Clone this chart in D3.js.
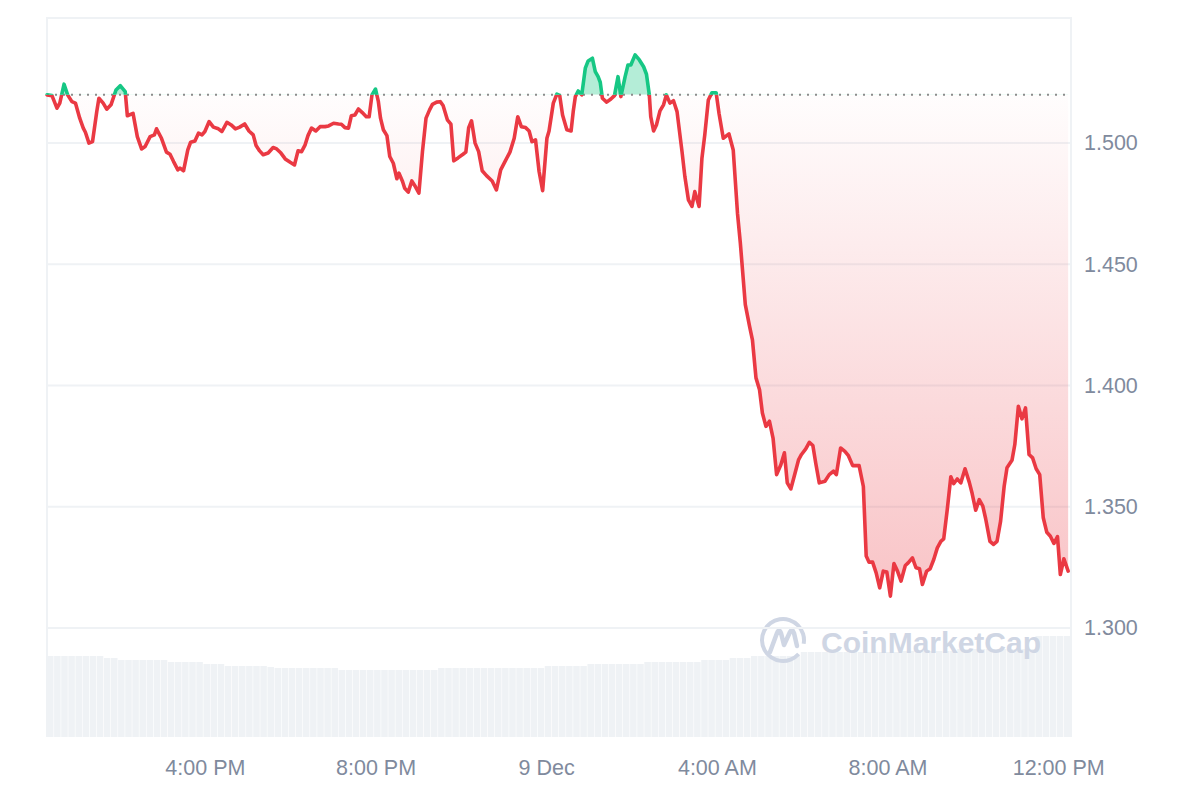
<!DOCTYPE html>
<html>
<head>
<meta charset="utf-8">
<script src="https://cdn.jsdelivr.net/npm/d3@7"></script>
<style>
  html, body { margin: 0; padding: 0; background: #fff; }
  svg { display: block; font-family: "Liberation Sans", Arial, sans-serif; }
</style>
</head>
<body>
<div id="chart"></div>
<script>
// minutes after 12:18 PM, 8 Dec, and the price read at that moment
var minutes = [
  0, 7, 14, 18, 24, 29, 35, 40, 46, 51,
  54, 59, 64, 70, 73, 79, 84, 90, 97, 103,
  110, 113, 121, 127, 133, 138, 145, 151, 154, 161,
  168, 173, 178, 184, 187, 192, 198, 202, 208, 213,
  218, 222, 228, 234, 241, 246, 253, 259, 265, 271,
  278, 284, 290, 294, 299, 304, 311, 318, 323, 329,
  335, 342, 348, 353, 358, 363, 367, 372, 378, 384,
  391, 396, 403, 410, 414, 419, 424, 428, 433, 438,
  443, 449, 453, 457, 462, 466, 469, 473, 478, 482,
  487, 492, 495, 500, 503, 508, 513, 518, 523, 528,
  533, 538, 542, 548, 553, 557, 563, 568, 572, 578,
  585, 589, 593, 597, 602, 607, 612, 618, 626, 632,
  638, 644, 651, 657, 662, 667, 673, 678, 682, 687,
  692, 697, 703, 706, 712, 717, 721, 725, 731, 737,
  740, 743, 747, 752, 757, 761, 767, 771, 775, 778,
  781, 787, 793, 798, 803, 807, 813, 817, 821, 827,
  833, 839, 843, 847, 849, 853, 857, 862, 867, 871,
  876, 881, 886, 893, 897, 902, 907, 911, 917, 921,
  925, 930, 935, 941, 945, 951, 959, 965, 971, 975,
  982, 988, 992, 997, 1002, 1006, 1011, 1016, 1021, 1026,
  1032, 1037, 1041, 1046, 1052, 1057, 1061, 1067, 1072, 1077,
  1081, 1086, 1094, 1100, 1106, 1110, 1116, 1122, 1127, 1133,
  1142, 1148, 1152, 1156, 1161, 1166, 1171, 1176, 1181, 1186,
  1191, 1196, 1201, 1207, 1211, 1217, 1222, 1227, 1231, 1237,
  1242, 1247, 1252, 1257, 1261, 1266, 1271, 1275, 1280, 1285,
  1291, 1297, 1301, 1306, 1311, 1316, 1320, 1326, 1331, 1336,
  1341, 1346, 1350, 1357, 1361, 1366, 1371, 1376, 1381, 1386,
  1391, 1396, 1401, 1406, 1411, 1416, 1421, 1425, 1430, 1436
];

var prices = [
  1.5198, 1.5195, 1.5143, 1.5164, 1.5242, 1.5198, 1.5170, 1.5164, 1.5102, 1.5061,
  1.5044, 1.4999, 1.5005, 1.5129, 1.5184, 1.5164, 1.5139, 1.5157, 1.5218, 1.5236,
  1.5211, 1.5112, 1.5122, 1.5026, 1.4975, 1.4985, 1.5026, 1.5033, 1.5058, 1.5019,
  1.4962, 1.4953, 1.4923, 1.4889, 1.4896, 1.4885, 1.4971, 1.5003, 1.5008, 1.5040,
  1.5033, 1.5047, 1.5088, 1.5065, 1.5058, 1.5047, 1.5085, 1.5074, 1.5058, 1.5065,
  1.5078, 1.5049, 1.5033, 1.4989, 1.4967, 1.4951, 1.4958, 1.4981, 1.4975, 1.4958,
  1.4934, 1.4920, 1.4909, 1.4967, 1.4964, 1.4992, 1.5030, 1.5061, 1.5049, 1.5067,
  1.5067, 1.5070, 1.5081, 1.5078, 1.5077, 1.5063, 1.5061, 1.5112, 1.5115, 1.5140,
  1.5126, 1.5108, 1.5108, 1.5198, 1.5222, 1.5170, 1.5102, 1.5054, 1.5030, 1.4944,
  1.4916, 1.4852, 1.4875, 1.4841, 1.4813, 1.4797, 1.4843, 1.4820, 1.4793, 1.4964,
  1.5102, 1.5136, 1.5159, 1.5168, 1.5170, 1.5154, 1.5095, 1.5077, 1.4926, 1.4938,
  1.4953, 1.4962, 1.5063, 1.5091, 1.4999, 1.4964, 1.4885, 1.4865, 1.4843, 1.4806,
  1.4889, 1.4923, 1.4962, 1.5019, 1.5108, 1.5067, 1.5063, 1.5049, 1.5005, 1.5012,
  1.4882, 1.4803, 1.5019, 1.5049, 1.5164, 1.5201, 1.5195, 1.5115, 1.5054, 1.5049,
  1.5129, 1.5191, 1.5214, 1.5198, 1.5308, 1.5338, 1.5349, 1.5294, 1.5273, 1.5250,
  1.5184, 1.5168, 1.5181, 1.5195, 1.5273, 1.5191, 1.5273, 1.5321, 1.5321, 1.5363,
  1.5342, 1.5314, 1.5283, 1.5198, 1.5108, 1.5049, 1.5074, 1.5132, 1.5157, 1.5198,
  1.5164, 1.5174, 1.5129, 1.4964, 1.4861, 1.4765, 1.4738, 1.4799, 1.4738, 1.4937,
  1.5033, 1.5177, 1.5207, 1.5207, 1.5122, 1.5019, 1.5037, 1.4971, 1.4710, 1.4587,
  1.4333, 1.4243, 1.4188, 1.4031, 1.3982, 1.3886, 1.3831, 1.3852, 1.3783, 1.3632,
  1.3673, 1.3722, 1.3598, 1.3573, 1.3639, 1.3694, 1.3715, 1.3738, 1.3765, 1.3752,
  1.3680, 1.3598, 1.3605, 1.3632, 1.3646, 1.3632, 1.3742, 1.3728, 1.3710, 1.3669,
  1.3669, 1.3583, 1.3296, 1.3271, 1.3271, 1.3227, 1.3165, 1.3234, 1.3230, 1.3131,
  1.3265, 1.3234, 1.3193, 1.3257, 1.3268, 1.3289, 1.3248, 1.3244, 1.3179, 1.3234,
  1.3244, 1.3282, 1.3330, 1.3357, 1.3367, 1.3488, 1.3623, 1.3595, 1.3614, 1.3598,
  1.3656, 1.3600, 1.3554, 1.3485, 1.3529, 1.3502, 1.3450, 1.3357, 1.3344, 1.3357,
  1.3440, 1.3584, 1.3660, 1.3691, 1.3756, 1.3914, 1.3862, 1.3907, 1.3715, 1.3701,
  1.3656, 1.3632, 1.3454, 1.3394, 1.3378, 1.3348, 1.3376, 1.3220, 1.3285, 1.3234
];

// volume, one bar every 10 minutes (millions)
var volumes = [
  32.4, 32.4, 32.4, 32.4, 32.4, 32.4, 32.4, 32.4, 31.6, 31.6,
  30.8, 30.8, 30.8, 30.8, 30.8, 30.8, 30.8, 30.0, 30.0, 30.0,
  30.0, 30.0, 29.2, 29.2, 29.2, 28.4, 28.4, 28.4, 28.4, 28.4,
  28.4, 28.0, 27.6, 27.6, 27.6, 27.6, 27.6, 27.6, 27.6, 27.6,
  27.6, 26.8, 26.8, 26.8, 26.8, 26.8, 26.8, 26.8, 26.8, 26.8,
  26.8, 26.8, 26.8, 26.8, 26.8, 27.6, 27.6, 27.6, 27.6, 27.6,
  27.6, 27.6, 27.6, 27.6, 27.6, 27.6, 27.6, 27.6, 27.6, 27.6,
  28.4, 28.4, 28.4, 28.4, 28.4, 28.4, 29.2, 29.2, 29.2, 29.2,
  29.2, 29.2, 29.2, 29.2, 30.0, 30.0, 30.0, 30.0, 30.0, 30.0,
  30.0, 30.0, 30.8, 30.8, 30.8, 30.8, 31.6, 31.6, 31.6, 32.4,
  32.4, 32.4, 32.4, 32.4, 32.4, 32.4, 34.0, 34.0, 34.0, 34.0,
  34.0, 34.0, 34.0, 34.0, 34.0, 34.0, 34.0, 34.0, 34.0, 34.0,
  34.4, 34.4, 34.4, 34.4, 34.4, 34.4, 34.4, 34.4, 35.2, 35.2,
  35.2, 35.2, 35.2, 35.2, 35.2, 35.2, 35.2, 35.2, 35.2, 40.4,
  40.4, 40.4, 40.4, 40.4
];

var openPrice = 1.5198;
var priceTicks = [1.300, 1.350, 1.400, 1.450, 1.500];

var width = 1200, height = 800;
var plotLeft = 47, plotRight = 1071, plotTop = 18, plotBottom = 737;

var start = new Date(2023, 11, 8, 12, 18);
var end = d3.timeMinute.offset(start, 1440);

var data = minutes.map(function(m, i) {
  return { t: d3.timeMinute.offset(start, m), p: prices[i] };
});

var x = d3.scaleTime().domain([start, end]).range([plotLeft, plotRight]);
var y = d3.scaleLinear().domain([1.2550, 1.5515]).range([plotBottom, plotTop]);
var yVol = d3.scaleLinear().domain([0, 40]).range([plotBottom, plotBottom - 100]);

var svg = d3.select("#chart").append("svg")
  .attr("width", width)
  .attr("height", height);

var defs = svg.append("defs");
var baseY = y(openPrice);

defs.append("clipPath").attr("id", "above")
  .append("rect").attr("x", 0).attr("y", 0).attr("width", width).attr("height", baseY);
defs.append("clipPath").attr("id", "below")
  .append("rect").attr("x", 0).attr("y", baseY).attr("width", width).attr("height", height - baseY);

var grad = defs.append("linearGradient")
  .attr("id", "redFill")
  .attr("gradientUnits", "userSpaceOnUse")
  .attr("x1", 0).attr("x2", 0)
  .attr("y1", baseY).attr("y2", y(d3.min(prices)));
grad.append("stop").attr("offset", "0%").attr("stop-color", "#ea3943").attr("stop-opacity", 0.01);
grad.append("stop").attr("offset", "100%").attr("stop-color", "#ea3943").attr("stop-opacity", 0.3);

// volume bars
var barW = x(d3.timeMinute.offset(start, 10)) - x(start);
svg.append("g").selectAll("rect")
  .data(volumes)
  .enter().append("rect")
    .attr("x", function(d, i) { return x(d3.timeMinute.offset(start, i * 10)); })
    .attr("y", function(d) { return yVol(d); })
    .attr("width", barW - 0.6)
    .attr("height", function(d) { return plotBottom - yVol(d); })
    .attr("fill", "#eff2f5");

// watermark
var wm = svg.append("g").attr("fill", "none").attr("stroke", "#cfd6e4");
wm.append("path")
  .attr("d", d3.arc()({ innerRadius: 19, outerRadius: 23, startAngle: 2.3, endAngle: 2 * Math.PI + 1.75 }))
  .attr("transform", "translate(783,640)")
  .attr("fill", "#cfd6e4").attr("stroke", "none");
wm.append("path")
  .attr("d", "M770,652 L777,633 Q779,628 781,633 L784,645 L790,632 Q792,628 794,633 L797,646")
  .attr("stroke-width", 4.5).attr("stroke-linecap", "round").attr("stroke-linejoin", "round");
svg.append("text")
  .attr("x", 821).attr("y", 653)
  .attr("font-size", 30).attr("font-weight", 700)
  .attr("fill", "#cfd6e4")
  .text("CoinMarketCap");

// grid
svg.append("g").selectAll("line")
  .data(priceTicks)
  .enter().append("line")
    .attr("x1", plotLeft).attr("x2", plotRight)
    .attr("y1", function(d) { return y(d); })
    .attr("y2", function(d) { return y(d); })
    .attr("stroke", "#eff2f5").attr("stroke-width", 2);

// frame
svg.append("path")
  .attr("d", "M" + plotLeft + "," + plotBottom + "V" + plotTop + "H" + plotRight + "V" + plotBottom)
  .attr("fill", "none").attr("stroke", "#eff2f5").attr("stroke-width", 2);

// areas
var area = d3.area()
  .x(function(d) { return x(d.t); })
  .y0(baseY)
  .y1(function(d) { return y(d.p); });

svg.append("path").datum(data)
  .attr("d", area).attr("clip-path", "url(#below)").attr("fill", "url(#redFill)");
svg.append("path").datum(data)
  .attr("d", area).attr("clip-path", "url(#above)").attr("fill", "#16c784").attr("fill-opacity", 0.32);

// open price dotted line
svg.append("line")
  .attr("x1", plotLeft).attr("x2", plotRight)
  .attr("y1", baseY).attr("y2", baseY)
  .attr("stroke", "#8c8c8c").attr("stroke-width", 2)
  .attr("stroke-dasharray", "2 6");

// price line
var line = d3.line()
  .x(function(d) { return x(d.t); })
  .y(function(d) { return y(d.p); });

svg.append("path").datum(data)
  .attr("d", line).attr("clip-path", "url(#below)")
  .attr("fill", "none").attr("stroke", "#ea3943").attr("stroke-width", 3.6)
  .attr("stroke-linejoin", "round").attr("stroke-linecap", "round");
svg.append("path").datum(data)
  .attr("d", line).attr("clip-path", "url(#above)")
  .attr("fill", "none").attr("stroke", "#16c784").attr("stroke-width", 3.6)
  .attr("stroke-linejoin", "round").attr("stroke-linecap", "round");

// axes
var fmtHour = d3.timeFormat("%-I:%M %p");
var fmtDay = d3.timeFormat("%-d %b");
var xAxis = d3.axisBottom(x)
  .ticks(d3.timeHour.every(4))
  .tickSize(0)
  .tickPadding(0)
  .tickFormat(function(d) { return d.getHours() === 0 ? fmtDay(d) : fmtHour(d); });

var gx = svg.append("g").attr("transform", "translate(0,760)").call(xAxis);
gx.select(".domain").remove();
gx.selectAll("text").attr("font-size", 21.5).attr("fill", "#808a9d")
  .attr("font-family", "'Liberation Sans', Arial, sans-serif");

var yAxis = d3.axisRight(y)
  .tickValues(priceTicks)
  .tickSize(0)
  .tickPadding(13)
  .tickFormat(d3.format(".3f"));

var gy = svg.append("g").attr("transform", "translate(" + plotRight + ",0)").call(yAxis);
gy.select(".domain").remove();
gy.selectAll("text").attr("font-size", 21.5).attr("fill", "#808a9d")
  .attr("font-family", "'Liberation Sans', Arial, sans-serif");
</script>
</body>
</html>
